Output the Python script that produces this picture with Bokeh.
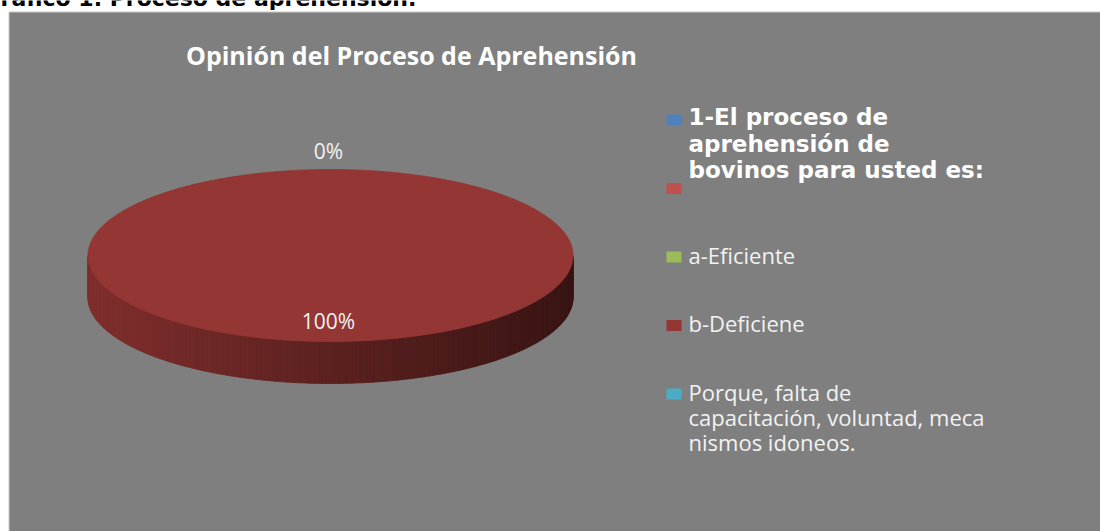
import math
from bokeh.plotting import figure
from bokeh.models import Range1d
from bokeh.core.properties import value
from bokeh.embed import file_html
from bokeh.resources import INLINE

# ---------------- data ----------------
heading = "Gráfico 1. Proceso de aprehensión."
title = "Opinión del Proceso de Aprehensión"

legend_labels = [
    "1-El  proceso de\naprehensión de\nbovinos para usted es:",
    "",
    "a-Eficiente",
    "b-Deficiene",
    "Porque, falta de\ncapacitación, voluntad, meca\nnismos idoneos.",
]
legend_colors = ["#4F81BD", "#C0504D", "#9BBB59", "#943634", "#4BACC6"]

pie_labels = ["a-Eficiente", "b-Deficiene"]
pie_values = [0, 100]
pie_colors = ["#9BBB59", "#943634"]

# ---------------- layout ----------------
W, H = 1100, 531
p = figure(width=W, height=H, output_backend="svg", toolbar_location=None,
           x_range=Range1d(0, W), y_range=Range1d(H, 0),
           min_border=0, outline_line_color=None, background_fill_color="white",
           border_fill_color="white")
p.axis.visible = False
p.grid.visible = False

SH = 0.42  # baseline correction (fraction of font size)

# heading (cut off at top, as in the source image)
p.text(x=[-18], y=[7 - SH * 22], text=[heading], text_font=value("DejaVu Sans"),
       text_font_size="22px", text_font_style="bold", text_color="black",
       text_align="left", text_baseline="alphabetic")

# gray chart area
p.quad(left=[8.5], right=[W + 2], top=[11.5], bottom=[H + 2],
       fill_color="#7f7f7f", line_color="#c8c8c8", line_width=1)

# title
p.text(x=[411], y=[65 - SH * 25], text=[title], text_font=value("Open Sans"),
       text_font_size="25px", text_font_style="bold", text_color="white",
       text_align="center", text_baseline="alphabetic")

# ---------------- 3D pie ----------------
cx, cy, rx, ry, depth = 330, 255, 242.5, 86, 42
x_left, x_right = cx - rx, cx + rx


def pt(theta, dy=0.0):
    # theta: clockwise angle from 12 o'clock
    return cx + rx * math.sin(theta), cy - ry * math.cos(theta) + dy


def shade(hexcol, x):
    t = (x - x_left) / (x_right - x_left)
    f = 0.865 - 0.485 * t
    r, g, b = (int(hexcol[i:i + 2], 16) for i in (1, 3, 5))
    return "#%02x%02x%02x" % (int(r * f), int(g * f), int(b * f))


total = float(sum(pie_values))
angles = []
a = 0.0
for v in pie_values:
    a1 = a + v / total * 2 * math.pi
    angles.append((a, a1))
    a = a1

# side strips (front half: theta between 90 and 270 degrees)
side_xs, side_ys, side_cols = [], [], []
for (a0, a1), col in zip(angles, pie_colors):
    lo, hi = max(a0, math.pi / 2), min(a1, 3 * math.pi / 2)
    if hi <= lo:
        continue
    n = max(2, int((hi - lo) / (math.pi / 180)))
    for k in range(n):
        t0 = lo + (hi - lo) * k / n
        t1 = lo + (hi - lo) * (k + 1) / n
        x0, y0 = pt(t0)
        x1, y1 = pt(t1)
        side_xs.append([x0, x1, x1, x0])
        side_ys.append([y0, y1, y1 + depth, y0 + depth])
        side_cols.append(shade(col, (x0 + x1) / 2))
p.patches(xs=side_xs, ys=side_ys, fill_color=side_cols, line_color=side_cols,
          line_width=0.8)

# top faces
top_xs, top_ys, top_cols = [], [], []
for (a0, a1), col in zip(angles, pie_colors):
    if a1 - a0 <= 0:
        continue
    n = max(2, int((a1 - a0) / (math.pi / 360)))
    xs, ys = [], []
    if a1 - a0 < 2 * math.pi - 1e-9:
        xs.append(cx)
        ys.append(cy)
    for k in range(n + 1):
        x, y = pt(a0 + (a1 - a0) * k / n)
        xs.append(x)
        ys.append(y)
    top_xs.append(xs)
    top_ys.append(ys)
    top_cols.append(col)
p.patches(xs=top_xs, ys=top_ys, fill_color=top_cols, line_color=top_cols,
          line_width=0.8)

# percent labels
lx, ly, lt = [], [], []
for (a0, a1), v in zip(angles, pie_values):
    mid = (a0 + a1) / 2
    if v == 0:
        x = cx + (rx + 17) * math.sin(mid)
        y = cy - (ry + 17) * math.cos(mid)
    else:
        x = cx + 0.78 * rx * math.sin(mid)
        y = cy - 0.78 * ry * math.cos(mid)
    lx.append(x - 2)
    ly.append(y + 7 - SH * 21)
    lt.append("%d%%" % round(v / total * 100))
p.text(x=lx, y=ly, text=lt, text_font=value("Open Sans"), text_font_size="21px",
       text_color="#f2f2f2", text_align="center", text_baseline="alphabetic")

# ---------------- legend ----------------
sq_x, txt_x = 673.5, 688
y0, step = 119.5, 68.5
for i, (lab, col) in enumerate(zip(legend_labels, legend_colors)):
    ys = y0 + i * step
    p.rect(x=[sq_x], y=[ys], width=15, height=11, fill_color=col, line_color=None)
    lines = lab.split("\n") if lab else []
    header = i < 2
    spacing = 26.5 if header else 25
    fs = 23 if header else 22
    if lines:
        p.text(x=[txt_x] * len(lines),
               y=[ys + 7 - SH * fs + k * spacing for k in range(len(lines))],
               text=lines,
               text_font=value("DejaVu Sans" if header else "Open Sans"),
               text_font_size="%dpx" % fs,
               text_font_style="bold" if header else "normal",
               text_color="white" if header else "#f2f2f2",
               text_align="left", text_baseline="alphabetic")

open("out.html", "w").write(file_html(p, INLINE))
